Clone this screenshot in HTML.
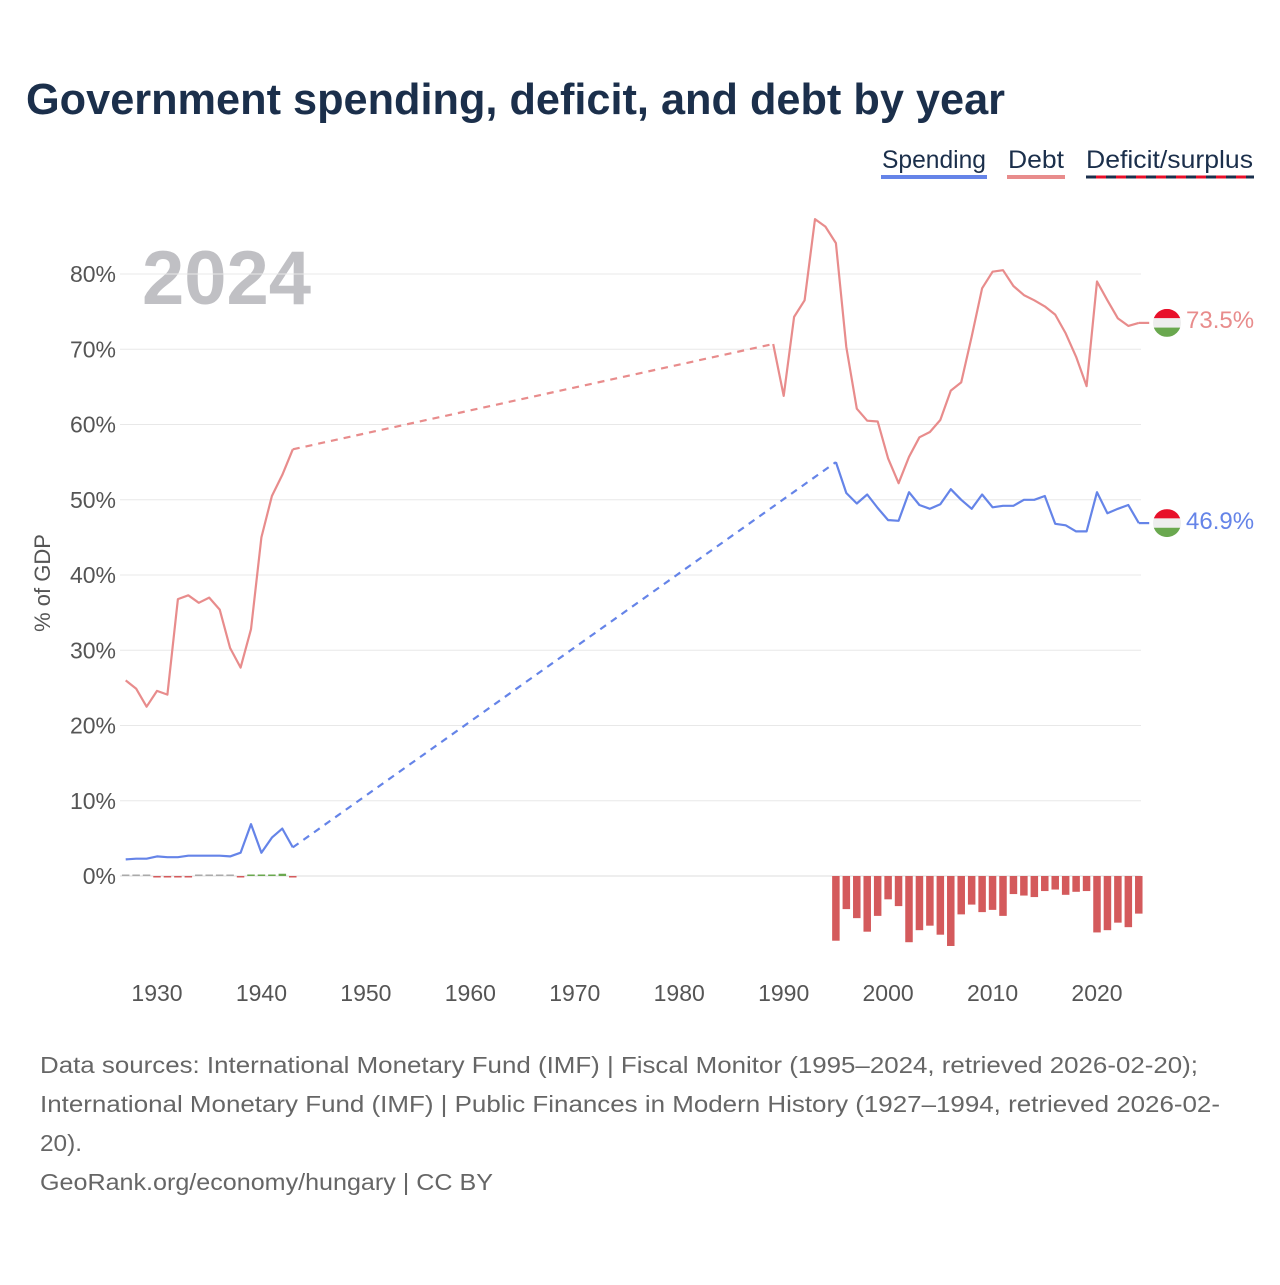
<!DOCTYPE html>
<html><head><meta charset="utf-8"><style>
body{margin:0;background:#fff;width:1280px;height:1280px;overflow:hidden;font-family:"Liberation Sans",sans-serif}
</style></head><body>
<svg id="chart" width="1280" height="1280" xmlns="http://www.w3.org/2000/svg">
<text x="26" y="114" font-size="44" font-weight="bold" fill="#1b2f4b" textLength="979" lengthAdjust="spacingAndGlyphs">Government spending, deficit, and debt by year</text>
<g font-size="25" fill="#1b2f4b">
<text x="882" y="168" textLength="104" lengthAdjust="spacingAndGlyphs">Spending</text>
<rect x="881" y="175" width="106" height="4" fill="#6584e8"/>
<text x="1008" y="168" textLength="56" lengthAdjust="spacingAndGlyphs">Debt</text>
<rect x="1007" y="175" width="58" height="4" fill="#e88c8c"/>
<text x="1086" y="168" textLength="167" lengthAdjust="spacingAndGlyphs">Deficit/surplus</text>
<line x1="1086" y1="177" x2="1254" y2="177" stroke="#1b2f4b" stroke-width="3"/>
<line x1="1096" y1="177" x2="1254" y2="177" stroke="#e8102a" stroke-width="3" stroke-dasharray="10 10"/>
</g>
<text x="142" y="304" font-size="76" font-weight="bold" fill="#c0c0c4">2024</text>
<text transform="translate(50,583) rotate(-90)" text-anchor="middle" font-size="22" fill="#555">% of GDP</text>
<g id="grid"></g><g id="bars"></g><g id="lines"></g><g id="xt"></g>
<g font-size="24">
<text x="1186" y="328" fill="#e88c8c">73.5%</text>
<text x="1186" y="529" fill="#6584e8">46.9%</text>
</g>
<g font-size="23" fill="#666" lengthAdjust="spacingAndGlyphs">
<text x="40" y="1073" textLength="1158" lengthAdjust="spacingAndGlyphs">Data sources: International Monetary Fund (IMF) | Fiscal Monitor (1995–2024, retrieved 2026-02-20);</text>
<text x="40" y="1112" textLength="1180" lengthAdjust="spacingAndGlyphs">International Monetary Fund (IMF) | Public Finances in Modern History (1927–1994, retrieved 2026-02-</text>
<text x="40" y="1151" textLength="42" lengthAdjust="spacingAndGlyphs">20).</text>
<text x="40" y="1190" textLength="453" lengthAdjust="spacingAndGlyphs">GeoRank.org/economy/hungary | CC BY</text>
</g>
</svg>
<script>
const yTicks=[0,10,20,30,40,50,60,70,80];
const xTicks=[1930,1940,1950,1960,1970,1980,1990,2000,2010,2020];
const earlyYears=[1927,1928,1929,1930,1931,1932,1933,1934,1935,1936,1937,1938,1939,1940,1941,1942,1943];
const earlyDebt=[26.0,24.9,22.5,24.6,24.1,36.8,37.3,36.3,37.0,35.4,30.3,27.7,32.8,45.0,50.5,53.3,56.7];
const earlySpending=[2.2,2.3,2.3,2.6,2.5,2.5,2.7,2.7,2.7,2.7,2.6,3.1,6.9,3.1,5.1,6.3,3.8];
const earlyDeficit=[0,0,0,-0.1,-0.2,-0.2,-0.1,0,0,0,0,-0.1,0.1,0.2,0.1,0.3,-0.2];
const debtYears=[1989,1990,1991,1992,1993,1994,1995,1996,1997,1998,1999,2000,2001,2002,2003,2004,2005,2006,2007,2008,2009,2010,2011,2012,2013,2014,2015,2016,2017,2018,2019,2020,2021,2022,2023,2024];
const lateDebt=[70.7,63.8,74.3,76.5,87.3,86.3,84.1,70.3,62.1,60.5,60.4,55.5,52.2,55.7,58.3,59.0,60.6,64.5,65.6,71.7,78.1,80.3,80.5,78.4,77.2,76.5,75.7,74.6,72.1,69.0,65.1,79.0,76.5,74.1,73.1,73.5];
const lateYears=[1995,1996,1997,1998,1999,2000,2001,2002,2003,2004,2005,2006,2007,2008,2009,2010,2011,2012,2013,2014,2015,2016,2017,2018,2019,2020,2021,2022,2023,2024];
const lateSpending=[55.0,50.9,49.5,50.7,48.9,47.3,47.2,51.0,49.3,48.8,49.4,51.4,50.0,48.8,50.7,49.0,49.2,49.2,50.0,50.0,50.5,46.8,46.6,45.8,45.8,51.0,48.2,48.8,49.3,46.9];
const lateDeficit=[-8.6,-4.4,-5.6,-7.4,-5.3,-3.1,-4.0,-8.8,-7.2,-6.6,-7.8,-9.3,-5.1,-3.8,-4.8,-4.5,-5.3,-2.4,-2.6,-2.8,-2.0,-1.8,-2.5,-2.1,-2.0,-7.5,-7.2,-6.2,-6.8,-5.0];

const NS='http://www.w3.org/2000/svg';
const X=y=>157+(y-1930)*940/90;
const Y=v=>876-v*602/80;
function mk(tag,attrs,parent){const e=document.createElementNS(NS,tag);for(const k in attrs)e.setAttribute(k,attrs[k]);parent.appendChild(e);return e;}
const grid=document.getElementById('grid'),bars=document.getElementById('bars'),lines=document.getElementById('lines'),xt=document.getElementById('xt');
yTicks.forEach(t=>{
  const l=mk('line',{x1:120,x2:1141,y1:Y(t),y2:Y(t),stroke:t===0?'#ddd':'#e8e8e8','stroke-width':1},grid);
  
  
  const tx=mk('text',{x:116,y:Y(t)+8,'text-anchor':'end','font-size':23,fill:'#555'},grid);
  tx.textContent=t+'%';
  
  
});
xTicks.forEach(t=>{
  const tx=mk('text',{x:X(t),y:1001,'text-anchor':'middle','font-size':23,fill:'#555'},xt);
  tx.textContent=t;
  
  
});
function bar(yr,v){
  const w=7.5,y0=Y(0),y1=Y(v);
  const col=Math.abs(v)<0.05?'#aaa':(v<0?'#d45a5c':'#6aa84f');
  const h=Math.max(Math.abs(y1-y0),1.5);
  const r=mk('rect',{x:X(yr)-w/2,y:v<0?y0:y0-h,width:w,height:h,fill:col},bars);
  
  
}
earlyYears.forEach((y,i)=>bar(y,earlyDeficit[i]));
lateYears.forEach((y,i)=>bar(y,lateDeficit[i]));
function pts(ys,vs){return ys.map((y,i)=>X(y).toFixed(1)+','+Y(vs[i]).toFixed(1)).join(' ');}
function line(p,col,name,dash){
  const a={points:p,fill:'none',stroke:col,'stroke-width':2.2,'stroke-linejoin':'round'};
  if(dash)a['stroke-dasharray']='7 6';
  const e=mk('polyline',a,lines);
  
  
}
const dc='#e88c8c',sc='#6584e8';
line(pts(earlyYears,earlyDebt),dc,'debt-line-early');
line(pts([earlyYears[earlyYears.length-1],debtYears[0]],[earlyDebt[earlyDebt.length-1],lateDebt[0]]),dc,'debt-gap',true);
line(pts(debtYears,lateDebt),dc,'debt-line-late');
line(pts(earlyYears,earlySpending),sc,'spending-line-early');
line(pts([earlyYears[earlyYears.length-1],lateYears[0]],[earlySpending[earlySpending.length-1],lateSpending[0]]),sc,'spending-gap',true);
line(pts(lateYears,lateSpending),sc,'spending-line-late');
line(pts([2024,2025],[lateDebt[lateDebt.length-1],lateDebt[lateDebt.length-1]]),dc,'debt-tail');
line(pts([2024,2025],[lateSpending[lateSpending.length-1],lateSpending[lateSpending.length-1]]),sc,'spending-tail');
function flag(cy,name){
  const g=mk('g',{},lines);
  
  
  const cx=1167,r=14;
  mk('clipPath',{id:'c'+name},g).appendChild(document.createElementNS(NS,'circle')).setAttribute('r',r);
  const c=g.querySelector('circle');c.setAttribute('cx',cx);c.setAttribute('cy',cy);
  mk('rect',{x:cx-r,y:cy-r,width:2*r,height:2*r/3,fill:'#e8102a','clip-path':'url(#c'+name+')'},g);
  mk('rect',{x:cx-r,y:cy-r/3,width:2*r,height:2*r/3,fill:'#eee','clip-path':'url(#c'+name+')'},g);
  mk('rect',{x:cx-r,y:cy+r/3,width:2*r,height:2*r/3,fill:'#6aa84f','clip-path':'url(#c'+name+')'},g);
}
flag(Y(lateDebt[lateDebt.length-1]),'flag-debt');
flag(Y(lateSpending[lateSpending.length-1]),'flag-spending');
</script>
</body></html>
